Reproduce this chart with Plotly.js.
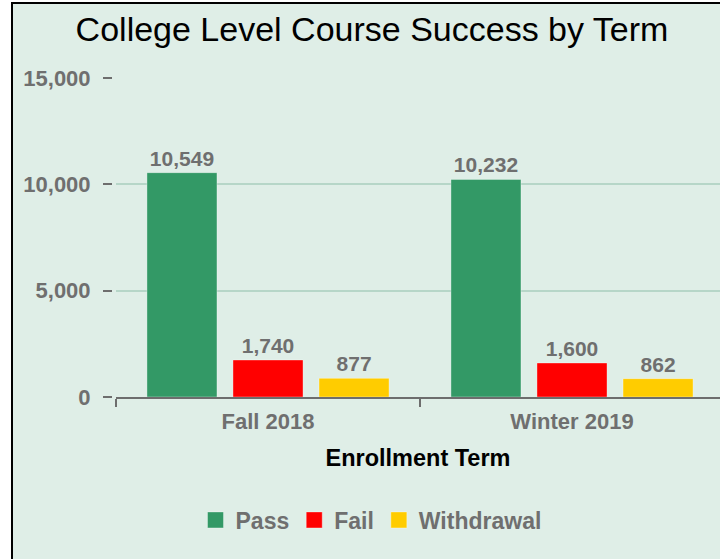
<!DOCTYPE html>
<html>
<head>
<meta charset="utf-8">
<script src="https://cdn.plot.ly/plotly-3.0.1.min.js"></script>
<style>
  html, body { margin: 0; padding: 0; background: #ffffff; width: 720px; height: 559px; overflow: hidden; }
  #frame { position: absolute; left: 11px; top: 2px; width: 707px; height: 555px;
           border-left: 2px solid #000; border-top: 2px solid #000; background: #dfeee7; }
  #chart { width: 707px; height: 555px; }
</style>
</head>
<body>
<div id="frame"><div id="chart"></div></div>
<script>
// ---- data ----
const terms = ["Fall 2018", "Winter 2019"];
const passCounts = [10549, 10232];
const failCounts = [1740, 1600];
const withdrawalCounts = [877, 862];
const seriesNames = ["Pass", "Fail", "Withdrawal"];
const seriesColors = ["#339966", "#ff0000", "#ffcc00"];
const yTickValues = [0, 5000, 10000, 15000];

const FONT = "Liberation Sans, Arial, sans-serif";
const GRAY = "#6f6f6f";

const seriesValues = [passCounts, failCounts, withdrawalCounts];
const barTraces = seriesValues.map((vals, i) => ({
  type: "bar",
  name: seriesNames[i],
  legendgroup: seriesNames[i],
  showlegend: false,
  x: terms,
  y: vals,
  marker: { color: seriesColors[i], line: { color: "rgba(255,255,255,0.35)", width: 1 } },
  text: vals.map(v => v.toLocaleString("en-US")),
  textposition: "outside",
  textfont: { family: FONT, size: 21, color: GRAY, weight: "bold" },
  constraintext: "none",
  cliponaxis: false,
  hoverinfo: "x+y+name"
}));
// legend entries (larger square swatches)
const legendTraces = seriesNames.map((name, i) => ({
  type: "scatter",
  mode: "markers",
  name: name,
  legendgroup: name,
  x: [null], y: [null],
  marker: { symbol: "square", size: 16, color: seriesColors[i], line: { color: "rgba(255,255,255,0.35)", width: 1 } },
  hoverinfo: "skip"
}));

const W = 707, H = 555, ML = 60;
const plotW = W - ML;
const layout = {
  width: W, height: H,
  margin: { l: ML, r: 0, t: 74, b: 162, pad: 0 },
  paper_bgcolor: "#dfeee7",
  plot_bgcolor: "#dfeee7",
  font: { family: FONT, color: GRAY },
  title: {
    text: "College Level Course Success by Term",
    font: { family: FONT, size: 34, color: "#000000" },
    x: 359 / W, xanchor: "center", xref: "container",
    y: 1 - 25 / H, yanchor: "middle", yref: "container"
  },
  barmode: "group",
  bargap: 0.151,
  bargroupgap: 0.186,
  showlegend: true,
  legend: {
    orientation: "h",
    xref: "container", yref: "container",
    x: 358 / W, xanchor: "center",
    y: 1 - 516 / H, yanchor: "middle",
    font: { family: FONT, size: 23, color: GRAY, weight: "bold" },
    bgcolor: "rgba(0,0,0,0)",
    itemsizing: "trace",
    traceorder: "normal"
  },
  xaxis: {
    domain: [(103 - ML) / plotW, 1],
    range: [-0.5, -0.5 + (707 - 103) / 304],
    type: "category",
    showline: true, linecolor: "#6d6d6d", linewidth: 1.5,
    ticks: "outside", tickson: "boundaries", ticklen: 8, tickwidth: 1.5, tickcolor: "#6d6d6d",
    ticklabelstandoff: 4,
    tickfont: { family: FONT, size: 22, color: GRAY, weight: "bold" },
    showgrid: false, zeroline: false,
    title: { text: "Enrollment Term", font: { family: FONT, size: 23.5, color: "#000000", weight: "bold" }, standoff: 16 },
    fixedrange: true
  },
  yaxis: {
    anchor: "free",
    position: (99 - ML) / plotW,
    range: [0, 15000],
    tickvals: yTickValues,
    ticktext: yTickValues.map(v => v.toLocaleString("en-US")),
    ticks: "outside", ticklen: 9, tickwidth: 2, tickcolor: "#6d6d6d",
    ticklabelstandoff: 8,
    tickfont: { family: FONT, size: 22, color: GRAY, weight: "bold" },
    showline: false, zeroline: false,
    showgrid: true, gridcolor: "#b6d6c8", gridwidth: 2,
    fixedrange: true
  }
};

Plotly.newPlot("chart", barTraces.concat(legendTraces), layout, { displayModeBar: false, staticPlot: true });
</script>
</body>
</html>
